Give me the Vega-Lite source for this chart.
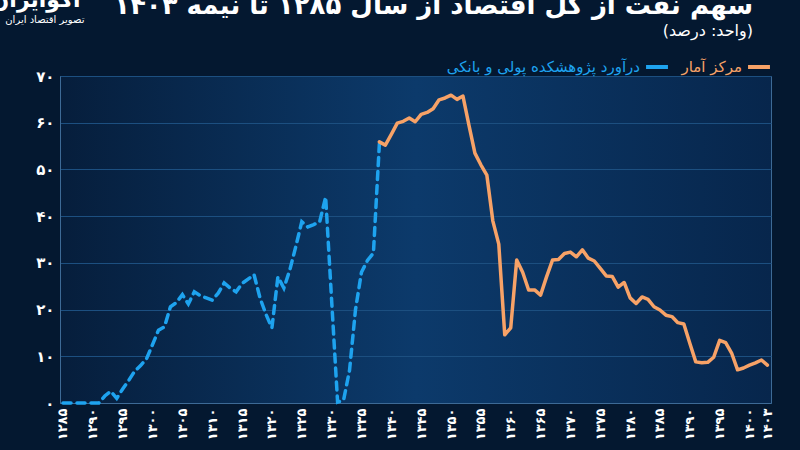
{
  "$schema": "https://vega.github.io/schema/vega-lite/v6.json",
  "width": 711,
  "height": 327,
  "autosize": {"type": "none"},
  "padding": {"left": 60, "top": 76, "right": 29, "bottom": 47},
  "background": "#041830",
  "title": {
    "text": "سهم نفت از کل اقتصاد از سال ۱۲۸۵ تا نیمه ۱۴۰۳",
    "subtitle": "(واحد: درصد)",
    "anchor": "end",
    "frame": "group",
    "orient": "top",
    "dx": -18,
    "dy": 59,
    "offset": 8,
    "font": "DejaVu Sans",
    "fontSize": 26,
    "fontWeight": "bold",
    "color": "#ffffff",
    "subtitleFont": "DejaVu Sans",
    "subtitleFontSize": 16,
    "subtitleColor": "#ffffff",
    "subtitlePadding": 4
  },
  "config": {
    "font": "DejaVu Sans",
    "view": {
      "stroke": "#3d6a96",
      "strokeWidth": 1,
      "fill": {
        "gradient": "linear",
        "x1": 0, "y1": 0, "x2": 1, "y2": 0,
        "stops": [
          {"offset": 0, "color": "#061e3c"},
          {"offset": 0.5, "color": "#0c3a6b"},
          {"offset": 1, "color": "#07264c"}
        ]
      }
    },
    "axis": {
      "labelColor": "#ffffff",
      "labelFont": "DejaVu Sans",
      "labelFontWeight": "bold",
      "ticks": false,
      "domainColor": "#3d6a96",
      "gridColor": "#1c4f80",
      "gridWidth": 1.2
    }
  },
  "data": {
    "values": [
      {"year": 1285, "series": "درآورد پژوهشکده پولی و بانکی", "value": 0},
      {"year": 1286, "series": "درآورد پژوهشکده پولی و بانکی", "value": 0},
      {"year": 1287, "series": "درآورد پژوهشکده پولی و بانکی", "value": 0},
      {"year": 1288, "series": "درآورد پژوهشکده پولی و بانکی", "value": 0},
      {"year": 1289, "series": "درآورد پژوهشکده پولی و بانکی", "value": 0},
      {"year": 1290, "series": "درآورد پژوهشکده پولی و بانکی", "value": 0},
      {"year": 1291, "series": "درآورد پژوهشکده پولی و بانکی", "value": 0},
      {"year": 1292, "series": "درآورد پژوهشکده پولی و بانکی", "value": 1.5},
      {"year": 1293, "series": "درآورد پژوهشکده پولی و بانکی", "value": 2.5},
      {"year": 1294, "series": "درآورد پژوهشکده پولی و بانکی", "value": 1.0},
      {"year": 1295, "series": "درآورد پژوهشکده پولی و بانکی", "value": 3.0},
      {"year": 1296, "series": "درآورد پژوهشکده پولی و بانکی", "value": 4.8},
      {"year": 1297, "series": "درآورد پژوهشکده پولی و بانکی", "value": 6.8},
      {"year": 1298, "series": "درآورد پژوهشکده پولی و بانکی", "value": 8.0},
      {"year": 1299, "series": "درآورد پژوهشکده پولی و بانکی", "value": 9.5},
      {"year": 1300, "series": "درآورد پژوهشکده پولی و بانکی", "value": 12.5},
      {"year": 1301, "series": "درآورد پژوهشکده پولی و بانکی", "value": 15.6},
      {"year": 1302, "series": "درآورد پژوهشکده پولی و بانکی", "value": 16.3},
      {"year": 1303, "series": "درآورد پژوهشکده پولی و بانکی", "value": 20.6},
      {"year": 1304, "series": "درآورد پژوهشکده پولی و بانکی", "value": 21.5},
      {"year": 1305, "series": "درآورد پژوهشکده پولی و بانکی", "value": 23.2},
      {"year": 1306, "series": "درآورد پژوهشکده پولی و بانکی", "value": 21.2},
      {"year": 1307, "series": "درآورد پژوهشکده پولی و بانکی", "value": 23.8},
      {"year": 1308, "series": "درآورد پژوهشکده پولی و بانکی", "value": 23.0},
      {"year": 1309, "series": "درآورد پژوهشکده پولی و بانکی", "value": 22.5},
      {"year": 1310, "series": "درآورد پژوهشکده پولی و بانکی", "value": 22.0},
      {"year": 1311, "series": "درآورد پژوهشکده پولی و بانکی", "value": 23.5},
      {"year": 1312, "series": "درآورد پژوهشکده پولی و بانکی", "value": 25.7},
      {"year": 1313, "series": "درآورد پژوهشکده پولی و بانکی", "value": 24.6},
      {"year": 1314, "series": "درآورد پژوهشکده پولی و بانکی", "value": 23.8},
      {"year": 1315, "series": "درآورد پژوهشکده پولی و بانکی", "value": 25.6},
      {"year": 1316, "series": "درآورد پژوهشکده پولی و بانکی", "value": 26.5},
      {"year": 1317, "series": "درآورد پژوهشکده پولی و بانکی", "value": 27.5},
      {"year": 1318, "series": "درآورد پژوهشکده پولی و بانکی", "value": 22.5},
      {"year": 1319, "series": "درآورد پژوهشکده پولی و بانکی", "value": 19.0},
      {"year": 1320, "series": "درآورد پژوهشکده پولی و بانکی", "value": 16.1},
      {"year": 1321, "series": "درآورد پژوهشکده پولی و بانکی", "value": 27.0},
      {"year": 1322, "series": "درآورد پژوهشکده پولی و بانکی", "value": 24.6},
      {"year": 1323, "series": "درآورد پژوهشکده پولی و بانکی", "value": 28.5},
      {"year": 1324, "series": "درآورد پژوهشکده پولی و بانکی", "value": 33.5},
      {"year": 1325, "series": "درآورد پژوهشکده پولی و بانکی", "value": 38.8},
      {"year": 1326, "series": "درآورد پژوهشکده پولی و بانکی", "value": 37.7},
      {"year": 1327, "series": "درآورد پژوهشکده پولی و بانکی", "value": 38.2},
      {"year": 1328, "series": "درآورد پژوهشکده پولی و بانکی", "value": 38.8},
      {"year": 1329, "series": "درآورد پژوهشکده پولی و بانکی", "value": 44.1},
      {"year": 1330, "series": "درآورد پژوهشکده پولی و بانکی", "value": 22.0},
      {"year": 1331, "series": "درآورد پژوهشکده پولی و بانکی", "value": 0.2},
      {"year": 1332, "series": "درآورد پژوهشکده پولی و بانکی", "value": 0.6},
      {"year": 1333, "series": "درآورد پژوهشکده پولی و بانکی", "value": 7.0},
      {"year": 1334, "series": "درآورد پژوهشکده پولی و بانکی", "value": 20.0},
      {"year": 1335, "series": "درآورد پژوهشکده پولی و بانکی", "value": 28.0},
      {"year": 1336, "series": "درآورد پژوهشکده پولی و بانکی", "value": 30.5},
      {"year": 1337, "series": "درآورد پژوهشکده پولی و بانکی", "value": 32.1},
      {"year": 1338, "series": "درآورد پژوهشکده پولی و بانکی", "value": 55.5},
      {"year": 1338, "series": "مرکز آمار", "value": 55.9},
      {"year": 1339, "series": "مرکز آمار", "value": 55.2},
      {"year": 1340, "series": "مرکز آمار", "value": 57.5},
      {"year": 1341, "series": "مرکز آمار", "value": 59.9},
      {"year": 1342, "series": "مرکز آمار", "value": 60.3},
      {"year": 1343, "series": "مرکز آمار", "value": 61.0},
      {"year": 1344, "series": "مرکز آمار", "value": 60.2},
      {"year": 1345, "series": "مرکز آمار", "value": 61.8},
      {"year": 1346, "series": "مرکز آمار", "value": 62.2},
      {"year": 1347, "series": "مرکز آمار", "value": 63.0},
      {"year": 1348, "series": "مرکز آمار", "value": 64.9},
      {"year": 1349, "series": "مرکز آمار", "value": 65.3},
      {"year": 1350, "series": "مرکز آمار", "value": 65.9},
      {"year": 1351, "series": "مرکز آمار", "value": 65.0},
      {"year": 1352, "series": "مرکز آمار", "value": 65.7},
      {"year": 1353, "series": "مرکز آمار", "value": 59.5},
      {"year": 1354, "series": "مرکز آمار", "value": 53.5},
      {"year": 1355, "series": "مرکز آمار", "value": 51.0},
      {"year": 1356, "series": "مرکز آمار", "value": 48.8},
      {"year": 1357, "series": "مرکز آمار", "value": 39.0},
      {"year": 1358, "series": "مرکز آمار", "value": 34.0},
      {"year": 1359, "series": "مرکز آمار", "value": 14.6},
      {"year": 1360, "series": "مرکز آمار", "value": 16.1},
      {"year": 1361, "series": "مرکز آمار", "value": 30.6},
      {"year": 1362, "series": "مرکز آمار", "value": 28.0},
      {"year": 1363, "series": "مرکز آمار", "value": 24.2},
      {"year": 1364, "series": "مرکز آمار", "value": 24.2},
      {"year": 1365, "series": "مرکز آمار", "value": 23.1},
      {"year": 1366, "series": "مرکز آمار", "value": 27.0},
      {"year": 1367, "series": "مرکز آمار", "value": 30.6},
      {"year": 1368, "series": "مرکز آمار", "value": 30.7},
      {"year": 1369, "series": "مرکز آمار", "value": 32.0},
      {"year": 1370, "series": "مرکز آمار", "value": 32.3},
      {"year": 1371, "series": "مرکز آمار", "value": 31.3},
      {"year": 1372, "series": "مرکز آمار", "value": 32.8},
      {"year": 1373, "series": "مرکز آمار", "value": 31.0},
      {"year": 1374, "series": "مرکز آمار", "value": 30.4},
      {"year": 1375, "series": "مرکز آمار", "value": 28.8},
      {"year": 1376, "series": "مرکز آمار", "value": 27.2},
      {"year": 1377, "series": "مرکز آمار", "value": 27.1},
      {"year": 1378, "series": "مرکز آمار", "value": 24.8},
      {"year": 1379, "series": "مرکز آمار", "value": 25.8},
      {"year": 1380, "series": "مرکز آمار", "value": 22.5},
      {"year": 1381, "series": "مرکز آمار", "value": 21.3},
      {"year": 1382, "series": "مرکز آمار", "value": 22.7},
      {"year": 1383, "series": "مرکز آمار", "value": 22.2},
      {"year": 1384, "series": "مرکز آمار", "value": 20.6},
      {"year": 1385, "series": "مرکز آمار", "value": 19.9},
      {"year": 1386, "series": "مرکز آمار", "value": 18.8},
      {"year": 1387, "series": "مرکز آمار", "value": 18.5},
      {"year": 1388, "series": "مرکز آمار", "value": 17.2},
      {"year": 1389, "series": "مرکز آمار", "value": 16.9},
      {"year": 1390, "series": "مرکز آمار", "value": 12.8},
      {"year": 1391, "series": "مرکز آمار", "value": 8.8},
      {"year": 1392, "series": "مرکز آمار", "value": 8.6},
      {"year": 1393, "series": "مرکز آمار", "value": 8.7},
      {"year": 1394, "series": "مرکز آمار", "value": 9.8},
      {"year": 1395, "series": "مرکز آمار", "value": 13.4},
      {"year": 1396, "series": "مرکز آمار", "value": 12.9},
      {"year": 1397, "series": "مرکز آمار", "value": 10.7},
      {"year": 1398, "series": "مرکز آمار", "value": 7.1},
      {"year": 1399, "series": "مرکز آمار", "value": 7.5},
      {"year": 1400, "series": "مرکز آمار", "value": 8.1},
      {"year": 1401, "series": "مرکز آمار", "value": 8.6},
      {"year": 1402, "series": "مرکز آمار", "value": 9.2},
      {"year": 1403, "series": "مرکز آمار", "value": 8.1}
    ]
  },
  "encoding": {
    "x": {
      "field": "year",
      "type": "quantitative",
      "scale": {"domain": [1284.5, 1403.6], "nice": false, "zero": false},
      "axis": {
        "title": "تصویر اقتصاد ایران",
        "titleColor": "#ffffff",
        "titleFont": "DejaVu Sans",
        "titleFontSize": 10,
        "titleFontWeight": "normal",
        "titleAlign": "right",
        "titleAnchor": null,
        "titleX": 24,
        "titleY": -381,
        "titleBaseline": "alphabetic",
        "values": [1285, 1290, 1295, 1300, 1305, 1310, 1315, 1320, 1325, 1330, 1335, 1340, 1345, 1350, 1355, 1360, 1365, 1370, 1375, 1380, 1385, 1390, 1395, 1400, 1403],
        "format": "d",
        "labelAngle": 270,
        "labelFontSize": 13,
        "labelPadding": 5,
        "labelOverlap": false,
        "grid": false,
        "labelExpr": "replace(replace(replace(replace(replace(replace(replace(replace(replace(replace(datum.label,regexp('0','g'),'۰'),regexp('1','g'),'۱'),regexp('2','g'),'۲'),regexp('3','g'),'۳'),regexp('4','g'),'۴'),regexp('5','g'),'۵'),regexp('6','g'),'۶'),regexp('7','g'),'۷'),regexp('8','g'),'۸'),regexp('9','g'),'۹')"
      }
    },
    "y": {
      "field": "value",
      "type": "quantitative",
      "scale": {"domain": [0, 70], "nice": false},
      "axis": {
        "title": "اکوایران",
        "titleColor": "#ffffff",
        "titleFont": "DejaVu Sans",
        "titleFontSize": 22,
        "titleFontWeight": "bold",
        "titleAngle": 0,
        "titleAlign": "right",
        "titleAnchor": null,
        "titleX": 20,
        "titleY": -70,
        "titleBaseline": "alphabetic",
        "values": [0, 10, 20, 30, 40, 50, 60, 70],
        "labelFontSize": 15,
        "labelPadding": 6,
        "grid": true,
        "labelExpr": "replace(replace(replace(replace(replace(replace(replace(replace(replace(replace(datum.label,regexp('0','g'),'۰'),regexp('1','g'),'۱'),regexp('2','g'),'۲'),regexp('3','g'),'۳'),regexp('4','g'),'۴'),regexp('5','g'),'۵'),regexp('6','g'),'۶'),regexp('7','g'),'۷'),regexp('8','g'),'۸'),regexp('9','g'),'۹')"
      }
    },
    "color": {
      "field": "series",
      "type": "nominal",
      "scale": {
        "domain": ["درآورد پژوهشکده پولی و بانکی", "مرکز آمار"],
        "range": ["#1ea3ef", "#f7a267"]
      },
      "legend": {
        "title": null,
        "orient": "none",
        "legendX": 584,
        "legendY": -22,
        "direction": "horizontal",
        "symbolType": "stroke",
        "symbolSize": 480,
        "symbolStrokeWidth": 4,
        "labelFont": "DejaVu Sans",
        "labelFontSize": 15,
        "labelLimit": 400,
        "labelAlign": "right",
        "labelOffset": -30,
        "columnPadding": 5,
        "encode": {
          "labels": {"update": {"fill": {"scale": "color", "field": "value"}}}
        }
      }
    }
  },
  "layer": [
    {
      "transform": [{"filter": "datum.series == 'درآورد پژوهشکده پولی و بانکی'"}],
      "mark": {"type": "line", "strokeWidth": 3.5, "strokeDash": [8, 6], "strokeCap": "round"}
    },
    {
      "transform": [{"filter": "datum.series == 'مرکز آمار'"}],
      "mark": {"type": "line", "strokeWidth": 3.5, "strokeCap": "round", "strokeJoin": "round"}
    }
  ]
}
